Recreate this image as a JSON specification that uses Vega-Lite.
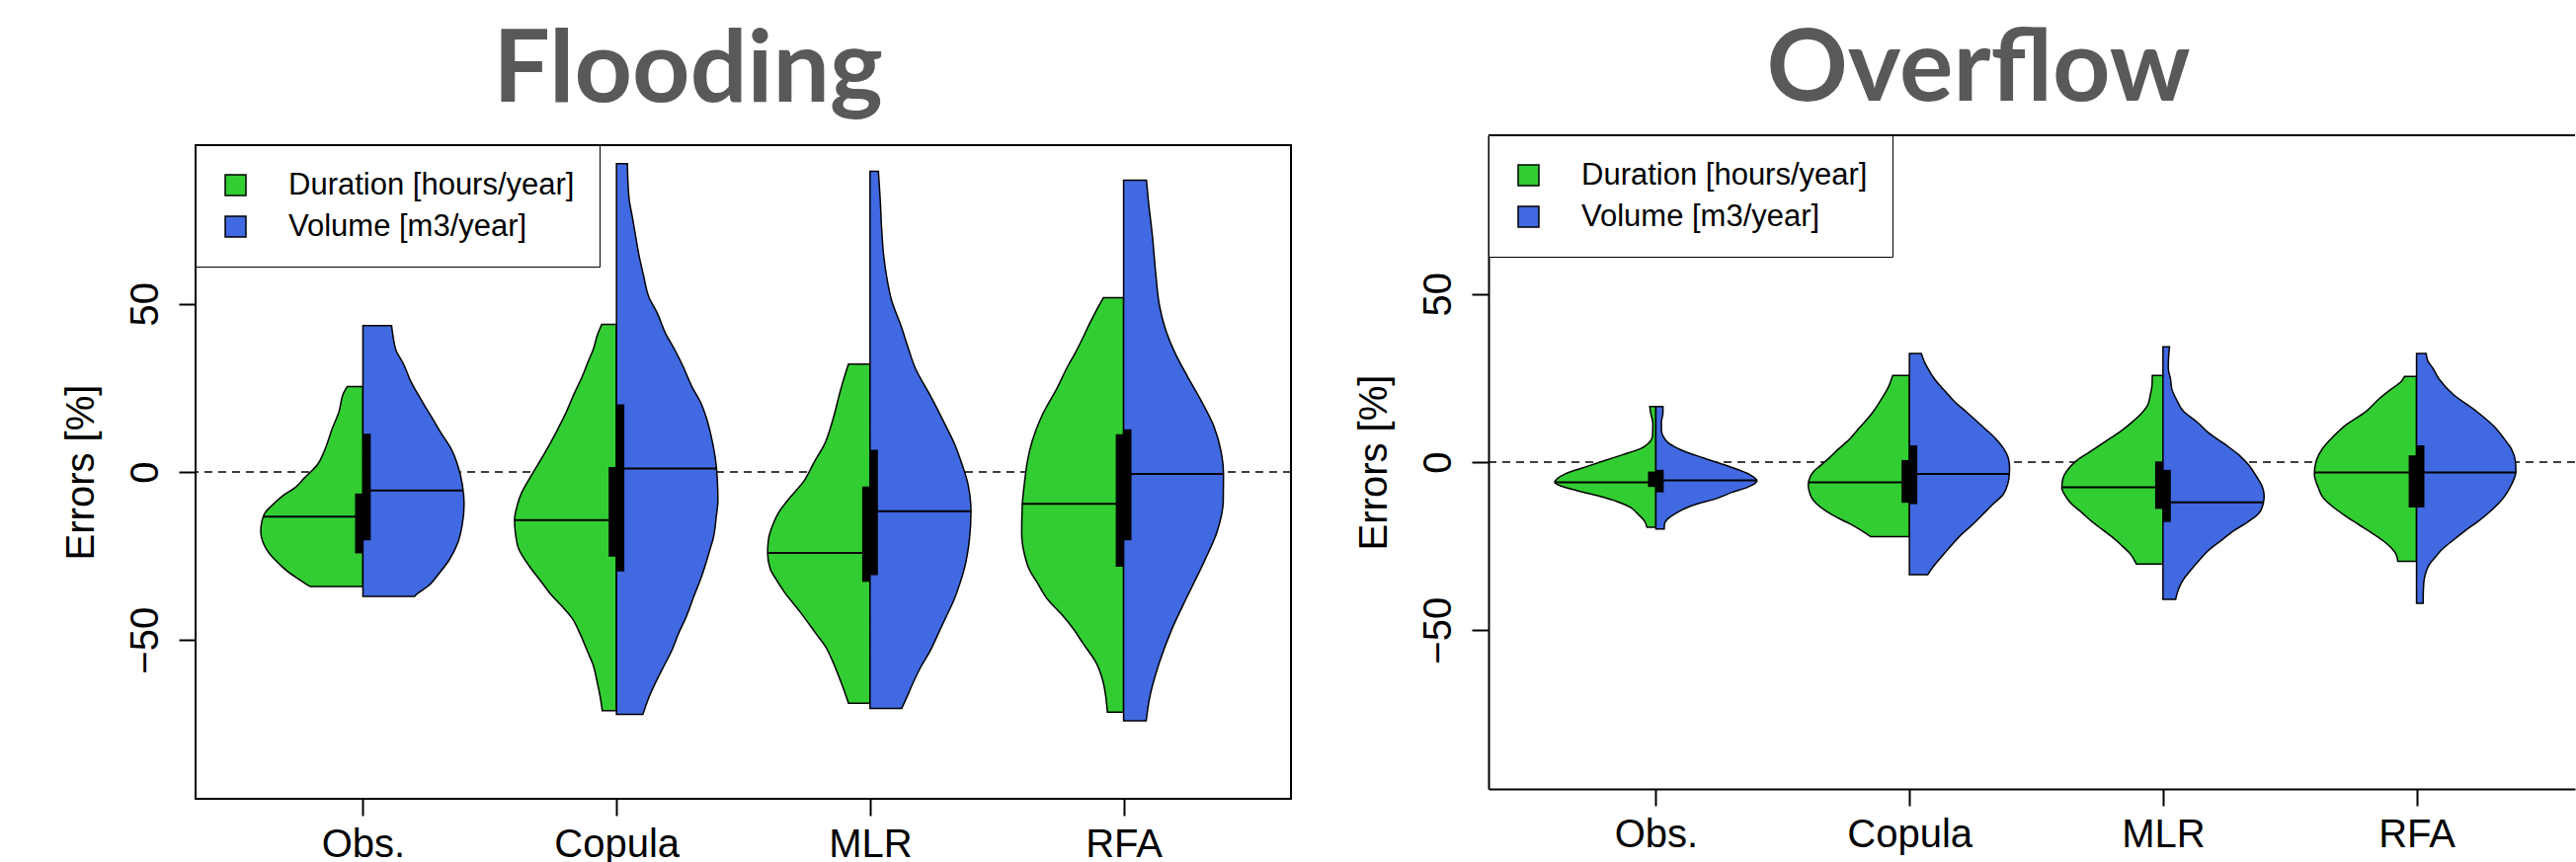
{
  "$schema": "https://vega.github.io/schema/vega-lite/v6.json",
  "background": "white",
  "padding": {"left": 62, "top": 20, "right": 0, "bottom": 0},
  "bounds": "flush",
  "spacing": 200,
  "config": {
    "view": {"stroke": null},
    "axis": {"labelFont": "Liberation Sans", "labelFontSize": 40, "labelColor": "black", "titleFont": "Liberation Sans", "titleFontSize": 40, "titleColor": "black", "titleFontWeight": "normal", "tickColor": "black", "tickSize": 17, "tickWidth": 2, "domainColor": "black", "domainWidth": 2, "grid": false},
    "title": {"font": "Lato", "fontSize": 102, "fontWeight": "bold", "color": "#595959"}
  },
  "resolve": {"scale": {"x": "independent", "y": "independent", "color": "independent"}, "legend": {"color": "independent"}},
  "datasets": {
    "flood_violin": [
      {"cat":"Obs.","series":"Duration [hours/year]","value":25.4,"density":0.062},
      {"cat":"Obs.","series":"Duration [hours/year]","value":23.7,"density":0.075},
      {"cat":"Obs.","series":"Duration [hours/year]","value":17.8,"density":0.095},
      {"cat":"Obs.","series":"Duration [hours/year]","value":12.9,"density":0.121},
      {"cat":"Obs.","series":"Duration [hours/year]","value":6.1,"density":0.153},
      {"cat":"Obs.","series":"Duration [hours/year]","value":2.2,"density":0.179},
      {"cat":"Obs.","series":"Duration [hours/year]","value":-1.8,"density":0.231},
      {"cat":"Obs.","series":"Duration [hours/year]","value":-4.5,"density":0.265},
      {"cat":"Obs.","series":"Duration [hours/year]","value":-7,"density":0.315},
      {"cat":"Obs.","series":"Duration [hours/year]","value":-9.7,"density":0.355},
      {"cat":"Obs.","series":"Duration [hours/year]","value":-12,"density":0.385},
      {"cat":"Obs.","series":"Duration [hours/year]","value":-14.5,"density":0.398},
      {"cat":"Obs.","series":"Duration [hours/year]","value":-17.8,"density":0.403},
      {"cat":"Obs.","series":"Duration [hours/year]","value":-20.5,"density":0.396},
      {"cat":"Obs.","series":"Duration [hours/year]","value":-22.8,"density":0.382},
      {"cat":"Obs.","series":"Duration [hours/year]","value":-25.5,"density":0.355},
      {"cat":"Obs.","series":"Duration [hours/year]","value":-27.7,"density":0.325},
      {"cat":"Obs.","series":"Duration [hours/year]","value":-30,"density":0.29},
      {"cat":"Obs.","series":"Duration [hours/year]","value":-31.8,"density":0.255},
      {"cat":"Obs.","series":"Duration [hours/year]","value":-33.3,"density":0.225},
      {"cat":"Obs.","series":"Duration [hours/year]","value":-34.1,"density":0.207},
      {"cat":"Obs.","series":"Volume [m3/year]","value":43.5,"density":0.113},
      {"cat":"Obs.","series":"Volume [m3/year]","value":40.3,"density":0.119},
      {"cat":"Obs.","series":"Volume [m3/year]","value":35.9,"density":0.132},
      {"cat":"Obs.","series":"Volume [m3/year]","value":32.4,"density":0.158},
      {"cat":"Obs.","series":"Volume [m3/year]","value":26.6,"density":0.191},
      {"cat":"Obs.","series":"Volume [m3/year]","value":20.7,"density":0.236},
      {"cat":"Obs.","series":"Volume [m3/year]","value":15.8,"density":0.275},
      {"cat":"Obs.","series":"Volume [m3/year]","value":10.9,"density":0.314},
      {"cat":"Obs.","series":"Volume [m3/year]","value":7.0,"density":0.347},
      {"cat":"Obs.","series":"Volume [m3/year]","value":2.2,"density":0.373},
      {"cat":"Obs.","series":"Volume [m3/year]","value":-3.7,"density":0.392},
      {"cat":"Obs.","series":"Volume [m3/year]","value":-9.6,"density":0.399},
      {"cat":"Obs.","series":"Volume [m3/year]","value":-15.5,"density":0.392},
      {"cat":"Obs.","series":"Volume [m3/year]","value":-21.3,"density":0.373},
      {"cat":"Obs.","series":"Volume [m3/year]","value":-26.2,"density":0.34},
      {"cat":"Obs.","series":"Volume [m3/year]","value":-30.1,"density":0.301},
      {"cat":"Obs.","series":"Volume [m3/year]","value":-34.0,"density":0.256},
      {"cat":"Obs.","series":"Volume [m3/year]","value":-36.5,"density":0.21},
      {"cat":"Obs.","series":"Volume [m3/year]","value":-37.0,"density":0.204},
      {"cat":"Copula","series":"Duration [hours/year]","value":43.9,"density":0.058},
      {"cat":"Copula","series":"Duration [hours/year]","value":40.6,"density":0.076},
      {"cat":"Copula","series":"Duration [hours/year]","value":36.8,"density":0.09},
      {"cat":"Copula","series":"Duration [hours/year]","value":32.8,"density":0.112},
      {"cat":"Copula","series":"Duration [hours/year]","value":28.4,"density":0.135},
      {"cat":"Copula","series":"Duration [hours/year]","value":23.6,"density":0.165},
      {"cat":"Copula","series":"Duration [hours/year]","value":17.5,"density":0.2},
      {"cat":"Copula","series":"Duration [hours/year]","value":11.8,"density":0.238},
      {"cat":"Copula","series":"Duration [hours/year]","value":4.7,"density":0.29},
      {"cat":"Copula","series":"Duration [hours/year]","value":-1.2,"density":0.337},
      {"cat":"Copula","series":"Duration [hours/year]","value":-6.5,"density":0.376},
      {"cat":"Copula","series":"Duration [hours/year]","value":-10.4,"density":0.393},
      {"cat":"Copula","series":"Duration [hours/year]","value":-14.3,"density":0.402},
      {"cat":"Copula","series":"Duration [hours/year]","value":-18.5,"density":0.398},
      {"cat":"Copula","series":"Duration [hours/year]","value":-23,"density":0.385},
      {"cat":"Copula","series":"Duration [hours/year]","value":-27.9,"density":0.345},
      {"cat":"Copula","series":"Duration [hours/year]","value":-32.5,"density":0.298},
      {"cat":"Copula","series":"Duration [hours/year]","value":-36.5,"density":0.258},
      {"cat":"Copula","series":"Duration [hours/year]","value":-40.1,"density":0.213},
      {"cat":"Copula","series":"Duration [hours/year]","value":-43.5,"density":0.175},
      {"cat":"Copula","series":"Duration [hours/year]","value":-47.9,"density":0.145},
      {"cat":"Copula","series":"Duration [hours/year]","value":-53.6,"density":0.113},
      {"cat":"Copula","series":"Duration [hours/year]","value":-57,"density":0.094},
      {"cat":"Copula","series":"Duration [hours/year]","value":-62.5,"density":0.076},
      {"cat":"Copula","series":"Duration [hours/year]","value":-67,"density":0.064},
      {"cat":"Copula","series":"Duration [hours/year]","value":-71.0,"density":0.056},
      {"cat":"Copula","series":"Volume [m3/year]","value":91.7,"density":0.043},
      {"cat":"Copula","series":"Volume [m3/year]","value":85,"density":0.046},
      {"cat":"Copula","series":"Volume [m3/year]","value":81.1,"density":0.05},
      {"cat":"Copula","series":"Volume [m3/year]","value":76,"density":0.062},
      {"cat":"Copula","series":"Volume [m3/year]","value":70.8,"density":0.074},
      {"cat":"Copula","series":"Volume [m3/year]","value":64,"density":0.09},
      {"cat":"Copula","series":"Volume [m3/year]","value":58.7,"density":0.106},
      {"cat":"Copula","series":"Volume [m3/year]","value":52,"density":0.128},
      {"cat":"Copula","series":"Volume [m3/year]","value":47.4,"density":0.16},
      {"cat":"Copula","series":"Volume [m3/year]","value":41,"density":0.195},
      {"cat":"Copula","series":"Volume [m3/year]","value":36.2,"density":0.231},
      {"cat":"Copula","series":"Volume [m3/year]","value":31.5,"density":0.262},
      {"cat":"Copula","series":"Volume [m3/year]","value":25,"density":0.3},
      {"cat":"Copula","series":"Volume [m3/year]","value":21,"density":0.33},
      {"cat":"Copula","series":"Volume [m3/year]","value":16,"density":0.355},
      {"cat":"Copula","series":"Volume [m3/year]","value":11.8,"density":0.37},
      {"cat":"Copula","series":"Volume [m3/year]","value":4,"density":0.39},
      {"cat":"Copula","series":"Volume [m3/year]","value":-2.6,"density":0.398},
      {"cat":"Copula","series":"Volume [m3/year]","value":-8.7,"density":0.4},
      {"cat":"Copula","series":"Volume [m3/year]","value":-13,"density":0.394},
      {"cat":"Copula","series":"Volume [m3/year]","value":-19.9,"density":0.381},
      {"cat":"Copula","series":"Volume [m3/year]","value":-22.2,"density":0.372},
      {"cat":"Copula","series":"Volume [m3/year]","value":-31.2,"density":0.335},
      {"cat":"Copula","series":"Volume [m3/year]","value":-37,"density":0.305},
      {"cat":"Copula","series":"Volume [m3/year]","value":-43.1,"density":0.275},
      {"cat":"Copula","series":"Volume [m3/year]","value":-48,"density":0.245},
      {"cat":"Copula","series":"Volume [m3/year]","value":-53.6,"density":0.215},
      {"cat":"Copula","series":"Volume [m3/year]","value":-58,"density":0.185},
      {"cat":"Copula","series":"Volume [m3/year]","value":-62.8,"density":0.153},
      {"cat":"Copula","series":"Volume [m3/year]","value":-67,"density":0.128},
      {"cat":"Copula","series":"Volume [m3/year]","value":-72.1,"density":0.104},
      {"cat":"MLR","series":"Duration [hours/year]","value":32.1,"density":0.085},
      {"cat":"MLR","series":"Duration [hours/year]","value":30,"density":0.094},
      {"cat":"MLR","series":"Duration [hours/year]","value":23.9,"density":0.118},
      {"cat":"MLR","series":"Duration [hours/year]","value":16,"density":0.145},
      {"cat":"MLR","series":"Duration [hours/year]","value":8.2,"density":0.18},
      {"cat":"MLR","series":"Duration [hours/year]","value":3,"density":0.22},
      {"cat":"MLR","series":"Duration [hours/year]","value":-2.6,"density":0.26},
      {"cat":"MLR","series":"Duration [hours/year]","value":-7.8,"density":0.318},
      {"cat":"MLR","series":"Duration [hours/year]","value":-12,"density":0.36},
      {"cat":"MLR","series":"Duration [hours/year]","value":-16,"density":0.385},
      {"cat":"MLR","series":"Duration [hours/year]","value":-19.8,"density":0.4},
      {"cat":"MLR","series":"Duration [hours/year]","value":-24.1,"density":0.404},
      {"cat":"MLR","series":"Duration [hours/year]","value":-28.7,"density":0.394},
      {"cat":"MLR","series":"Duration [hours/year]","value":-32,"density":0.37},
      {"cat":"MLR","series":"Duration [hours/year]","value":-35.5,"density":0.34},
      {"cat":"MLR","series":"Duration [hours/year]","value":-41.8,"density":0.274},
      {"cat":"MLR","series":"Duration [hours/year]","value":-48.4,"density":0.21},
      {"cat":"MLR","series":"Duration [hours/year]","value":-52,"density":0.175},
      {"cat":"MLR","series":"Duration [hours/year]","value":-56.2,"density":0.148},
      {"cat":"MLR","series":"Duration [hours/year]","value":-62.8,"density":0.113},
      {"cat":"MLR","series":"Duration [hours/year]","value":-68.8,"density":0.085},
      {"cat":"MLR","series":"Volume [m3/year]","value":89.4,"density":0.033},
      {"cat":"MLR","series":"Volume [m3/year]","value":81.2,"density":0.04},
      {"cat":"MLR","series":"Volume [m3/year]","value":72,"density":0.046},
      {"cat":"MLR","series":"Volume [m3/year]","value":64.2,"density":0.054},
      {"cat":"MLR","series":"Volume [m3/year]","value":57,"density":0.068},
      {"cat":"MLR","series":"Volume [m3/year]","value":51,"density":0.085},
      {"cat":"MLR","series":"Volume [m3/year]","value":43.3,"density":0.123},
      {"cat":"MLR","series":"Volume [m3/year]","value":37,"density":0.15},
      {"cat":"MLR","series":"Volume [m3/year]","value":30.6,"density":0.18},
      {"cat":"MLR","series":"Volume [m3/year]","value":23.5,"density":0.232},
      {"cat":"MLR","series":"Volume [m3/year]","value":15,"density":0.29},
      {"cat":"MLR","series":"Volume [m3/year]","value":8,"density":0.335},
      {"cat":"MLR","series":"Volume [m3/year]","value":4,"density":0.355},
      {"cat":"MLR","series":"Volume [m3/year]","value":-3.5,"density":0.386},
      {"cat":"MLR","series":"Volume [m3/year]","value":-11.7,"density":0.398},
      {"cat":"MLR","series":"Volume [m3/year]","value":-20,"density":0.392},
      {"cat":"MLR","series":"Volume [m3/year]","value":-28.7,"density":0.372},
      {"cat":"MLR","series":"Volume [m3/year]","value":-33,"density":0.355},
      {"cat":"MLR","series":"Volume [m3/year]","value":-37.9,"density":0.332},
      {"cat":"MLR","series":"Volume [m3/year]","value":-42.3,"density":0.305},
      {"cat":"MLR","series":"Volume [m3/year]","value":-47.1,"density":0.275},
      {"cat":"MLR","series":"Volume [m3/year]","value":-53.5,"density":0.235},
      {"cat":"MLR","series":"Volume [m3/year]","value":-58,"density":0.2},
      {"cat":"MLR","series":"Volume [m3/year]","value":-63,"density":0.168},
      {"cat":"MLR","series":"Volume [m3/year]","value":-67,"density":0.145},
      {"cat":"MLR","series":"Volume [m3/year]","value":-70.3,"density":0.125},
      {"cat":"RFA","series":"Duration [hours/year]","value":51.8,"density":0.08},
      {"cat":"RFA","series":"Duration [hours/year]","value":48,"density":0.108},
      {"cat":"RFA","series":"Duration [hours/year]","value":44,"density":0.135},
      {"cat":"RFA","series":"Duration [hours/year]","value":40,"density":0.16},
      {"cat":"RFA","series":"Duration [hours/year]","value":35.5,"density":0.19},
      {"cat":"RFA","series":"Duration [hours/year]","value":31.5,"density":0.22},
      {"cat":"RFA","series":"Duration [hours/year]","value":25,"density":0.262},
      {"cat":"RFA","series":"Duration [hours/year]","value":17.1,"density":0.32},
      {"cat":"RFA","series":"Duration [hours/year]","value":9.3,"density":0.36},
      {"cat":"RFA","series":"Duration [hours/year]","value":3,"density":0.38},
      {"cat":"RFA","series":"Duration [hours/year]","value":-2.6,"density":0.39},
      {"cat":"RFA","series":"Duration [hours/year]","value":-10.4,"density":0.4},
      {"cat":"RFA","series":"Duration [hours/year]","value":-18.3,"density":0.402},
      {"cat":"RFA","series":"Duration [hours/year]","value":-24.8,"density":0.39},
      {"cat":"RFA","series":"Duration [hours/year]","value":-29,"density":0.372},
      {"cat":"RFA","series":"Duration [hours/year]","value":-33,"density":0.34},
      {"cat":"RFA","series":"Duration [hours/year]","value":-37.9,"density":0.3},
      {"cat":"RFA","series":"Duration [hours/year]","value":-42.3,"density":0.245},
      {"cat":"RFA","series":"Duration [hours/year]","value":-47,"density":0.195},
      {"cat":"RFA","series":"Duration [hours/year]","value":-51,"density":0.16},
      {"cat":"RFA","series":"Duration [hours/year]","value":-56.5,"density":0.11},
      {"cat":"RFA","series":"Duration [hours/year]","value":-62.7,"density":0.08},
      {"cat":"RFA","series":"Duration [hours/year]","value":-67,"density":0.07},
      {"cat":"RFA","series":"Duration [hours/year]","value":-71.4,"density":0.064},
      {"cat":"RFA","series":"Volume [m3/year]","value":86.8,"density":0.09},
      {"cat":"RFA","series":"Volume [m3/year]","value":81.1,"density":0.097},
      {"cat":"RFA","series":"Volume [m3/year]","value":69.9,"density":0.114},
      {"cat":"RFA","series":"Volume [m3/year]","value":58.7,"density":0.127},
      {"cat":"RFA","series":"Volume [m3/year]","value":49.7,"density":0.141},
      {"cat":"RFA","series":"Volume [m3/year]","value":41.8,"density":0.168},
      {"cat":"RFA","series":"Volume [m3/year]","value":35.2,"density":0.204},
      {"cat":"RFA","series":"Volume [m3/year]","value":28.4,"density":0.252},
      {"cat":"RFA","series":"Volume [m3/year]","value":21.6,"density":0.303},
      {"cat":"RFA","series":"Volume [m3/year]","value":13.8,"density":0.355},
      {"cat":"RFA","series":"Volume [m3/year]","value":5.9,"density":0.385},
      {"cat":"RFA","series":"Volume [m3/year]","value":-0.7,"density":0.394},
      {"cat":"RFA","series":"Volume [m3/year]","value":-8.7,"density":0.393},
      {"cat":"RFA","series":"Volume [m3/year]","value":-17.7,"density":0.369},
      {"cat":"RFA","series":"Volume [m3/year]","value":-26.6,"density":0.318},
      {"cat":"RFA","series":"Volume [m3/year]","value":-36.7,"density":0.253},
      {"cat":"RFA","series":"Volume [m3/year]","value":-46.8,"density":0.19},
      {"cat":"RFA","series":"Volume [m3/year]","value":-56.9,"density":0.14},
      {"cat":"RFA","series":"Volume [m3/year]","value":-67,"density":0.103},
      {"cat":"RFA","series":"Volume [m3/year]","value":-74,"density":0.089}
    ],
    "flood_stats": [
      {"cat":"Obs.","series":"Duration [hours/year]","q1":-24.2,"q3":-6.4,"median":-13.3,"medw":0.392},
      {"cat":"Obs.","series":"Volume [m3/year]","q1":-20.3,"q3":11.4,"median":-5.5,"medw":0.394},
      {"cat":"Copula","series":"Duration [hours/year]","q1":-25.2,"q3":1.5,"median":-14.3,"medw":0.402},
      {"cat":"Copula","series":"Volume [m3/year]","q1":-29.6,"q3":20.1,"median":1.0,"medw":0.395},
      {"cat":"MLR","series":"Duration [hours/year]","q1":-32.7,"q3":-4.3,"median":-24.1,"medw":0.404},
      {"cat":"MLR","series":"Volume [m3/year]","q1":-30.7,"q3":6.6,"median":-11.7,"medw":0.398},
      {"cat":"RFA","series":"Duration [hours/year]","q1":-28.2,"q3":11.2,"median":-9.5,"medw":0.401},
      {"cat":"RFA","series":"Volume [m3/year]","q1":-20.3,"q3":12.7,"median":-0.6,"medw":0.394}
    ],
    "over_violin": [
      {"cat":"Obs.","series":"Duration [hours/year]","value":16.5,"density":0.024},
      {"cat":"Obs.","series":"Duration [hours/year]","value":14.5,"density":0.02},
      {"cat":"Obs.","series":"Duration [hours/year]","value":11.5,"density":0.012},
      {"cat":"Obs.","series":"Duration [hours/year]","value":8,"density":0.013},
      {"cat":"Obs.","series":"Duration [hours/year]","value":5.5,"density":0.03},
      {"cat":"Obs.","series":"Duration [hours/year]","value":4,"density":0.06},
      {"cat":"Obs.","series":"Duration [hours/year]","value":2.1,"density":0.135},
      {"cat":"Obs.","series":"Duration [hours/year]","value":0.5,"density":0.2},
      {"cat":"Obs.","series":"Duration [hours/year]","value":-1.5,"density":0.28},
      {"cat":"Obs.","series":"Duration [hours/year]","value":-3.4,"density":0.355},
      {"cat":"Obs.","series":"Duration [hours/year]","value":-5,"density":0.39},
      {"cat":"Obs.","series":"Duration [hours/year]","value":-6,"density":0.399},
      {"cat":"Obs.","series":"Duration [hours/year]","value":-7.2,"density":0.37},
      {"cat":"Obs.","series":"Duration [hours/year]","value":-8.5,"density":0.31},
      {"cat":"Obs.","series":"Duration [hours/year]","value":-10,"density":0.23},
      {"cat":"Obs.","series":"Duration [hours/year]","value":-11.8,"density":0.15},
      {"cat":"Obs.","series":"Duration [hours/year]","value":-13.5,"density":0.1},
      {"cat":"Obs.","series":"Duration [hours/year]","value":-15.5,"density":0.07},
      {"cat":"Obs.","series":"Duration [hours/year]","value":-17.5,"density":0.045},
      {"cat":"Obs.","series":"Duration [hours/year]","value":-19.4,"density":0.035},
      {"cat":"Obs.","series":"Volume [m3/year]","value":16.5,"density":0.028},
      {"cat":"Obs.","series":"Volume [m3/year]","value":14.5,"density":0.028},
      {"cat":"Obs.","series":"Volume [m3/year]","value":12,"density":0.022},
      {"cat":"Obs.","series":"Volume [m3/year]","value":9.5,"density":0.022},
      {"cat":"Obs.","series":"Volume [m3/year]","value":7.5,"density":0.03},
      {"cat":"Obs.","series":"Volume [m3/year]","value":6,"density":0.045},
      {"cat":"Obs.","series":"Volume [m3/year]","value":4.5,"density":0.075},
      {"cat":"Obs.","series":"Volume [m3/year]","value":3.6,"density":0.1},
      {"cat":"Obs.","series":"Volume [m3/year]","value":1.1,"density":0.193},
      {"cat":"Obs.","series":"Volume [m3/year]","value":-1.3,"density":0.289},
      {"cat":"Obs.","series":"Volume [m3/year]","value":-3.8,"density":0.372},
      {"cat":"Obs.","series":"Volume [m3/year]","value":-5.5,"density":0.399},
      {"cat":"Obs.","series":"Volume [m3/year]","value":-7.6,"density":0.358},
      {"cat":"Obs.","series":"Volume [m3/year]","value":-9,"density":0.3},
      {"cat":"Obs.","series":"Volume [m3/year]","value":-10.6,"density":0.248},
      {"cat":"Obs.","series":"Volume [m3/year]","value":-13,"density":0.14},
      {"cat":"Obs.","series":"Volume [m3/year]","value":-15.5,"density":0.072},
      {"cat":"Obs.","series":"Volume [m3/year]","value":-17,"density":0.045},
      {"cat":"Obs.","series":"Volume [m3/year]","value":-18.5,"density":0.034},
      {"cat":"Obs.","series":"Volume [m3/year]","value":-19.9,"density":0.033},
      {"cat":"Copula","series":"Duration [hours/year]","value":25.8,"density":0.066},
      {"cat":"Copula","series":"Duration [hours/year]","value":22,"density":0.085},
      {"cat":"Copula","series":"Duration [hours/year]","value":18.8,"density":0.11},
      {"cat":"Copula","series":"Duration [hours/year]","value":15.5,"density":0.138},
      {"cat":"Copula","series":"Duration [hours/year]","value":12.9,"density":0.165},
      {"cat":"Copula","series":"Duration [hours/year]","value":10,"density":0.2},
      {"cat":"Copula","series":"Duration [hours/year]","value":7,"density":0.234},
      {"cat":"Copula","series":"Duration [hours/year]","value":4,"density":0.278},
      {"cat":"Copula","series":"Duration [hours/year]","value":1.2,"density":0.317},
      {"cat":"Copula","series":"Duration [hours/year]","value":-1,"density":0.35},
      {"cat":"Copula","series":"Duration [hours/year]","value":-2.7,"density":0.377},
      {"cat":"Copula","series":"Duration [hours/year]","value":-4.7,"density":0.393},
      {"cat":"Copula","series":"Duration [hours/year]","value":-6.6,"density":0.399},
      {"cat":"Copula","series":"Duration [hours/year]","value":-8.5,"density":0.396},
      {"cat":"Copula","series":"Duration [hours/year]","value":-10.5,"density":0.386},
      {"cat":"Copula","series":"Duration [hours/year]","value":-12.5,"density":0.365},
      {"cat":"Copula","series":"Duration [hours/year]","value":-14.5,"density":0.33},
      {"cat":"Copula","series":"Duration [hours/year]","value":-16.5,"density":0.285},
      {"cat":"Copula","series":"Duration [hours/year]","value":-18.4,"density":0.234},
      {"cat":"Copula","series":"Duration [hours/year]","value":-20.3,"density":0.19},
      {"cat":"Copula","series":"Duration [hours/year]","value":-22.2,"density":0.152},
      {"cat":"Copula","series":"Volume [m3/year]","value":32.3,"density":0.047},
      {"cat":"Copula","series":"Volume [m3/year]","value":30,"density":0.058},
      {"cat":"Copula","series":"Volume [m3/year]","value":28.2,"density":0.07},
      {"cat":"Copula","series":"Volume [m3/year]","value":24.6,"density":0.1},
      {"cat":"Copula","series":"Volume [m3/year]","value":21,"density":0.142},
      {"cat":"Copula","series":"Volume [m3/year]","value":18,"density":0.178},
      {"cat":"Copula","series":"Volume [m3/year]","value":14.9,"density":0.225},
      {"cat":"Copula","series":"Volume [m3/year]","value":10.5,"density":0.29},
      {"cat":"Copula","series":"Volume [m3/year]","value":7,"density":0.34},
      {"cat":"Copula","series":"Volume [m3/year]","value":4,"density":0.372},
      {"cat":"Copula","series":"Volume [m3/year]","value":1.2,"density":0.39},
      {"cat":"Copula","series":"Volume [m3/year]","value":-1.5,"density":0.395},
      {"cat":"Copula","series":"Volume [m3/year]","value":-3.7,"density":0.394},
      {"cat":"Copula","series":"Volume [m3/year]","value":-6.5,"density":0.388},
      {"cat":"Copula","series":"Volume [m3/year]","value":-9.6,"density":0.37},
      {"cat":"Copula","series":"Volume [m3/year]","value":-12.5,"density":0.33},
      {"cat":"Copula","series":"Volume [m3/year]","value":-15.5,"density":0.29},
      {"cat":"Copula","series":"Volume [m3/year]","value":-18.5,"density":0.25},
      {"cat":"Copula","series":"Volume [m3/year]","value":-21.4,"density":0.207},
      {"cat":"Copula","series":"Volume [m3/year]","value":-24.8,"density":0.165},
      {"cat":"Copula","series":"Volume [m3/year]","value":-28.2,"density":0.126},
      {"cat":"Copula","series":"Volume [m3/year]","value":-31,"density":0.095},
      {"cat":"Copula","series":"Volume [m3/year]","value":-33.5,"density":0.072},
      {"cat":"MLR","series":"Duration [hours/year]","value":25.8,"density":0.042},
      {"cat":"MLR","series":"Duration [hours/year]","value":23,"density":0.043},
      {"cat":"MLR","series":"Duration [hours/year]","value":20,"density":0.05},
      {"cat":"MLR","series":"Duration [hours/year]","value":17,"density":0.06},
      {"cat":"MLR","series":"Duration [hours/year]","value":14.9,"density":0.08},
      {"cat":"MLR","series":"Duration [hours/year]","value":12,"density":0.12},
      {"cat":"MLR","series":"Duration [hours/year]","value":9,"density":0.17},
      {"cat":"MLR","series":"Duration [hours/year]","value":6,"density":0.23},
      {"cat":"MLR","series":"Duration [hours/year]","value":3,"density":0.29},
      {"cat":"MLR","series":"Duration [hours/year]","value":0.5,"density":0.34},
      {"cat":"MLR","series":"Duration [hours/year]","value":-2.7,"density":0.38},
      {"cat":"MLR","series":"Duration [hours/year]","value":-5,"density":0.395},
      {"cat":"MLR","series":"Duration [hours/year]","value":-7.6,"density":0.399},
      {"cat":"MLR","series":"Duration [hours/year]","value":-10,"density":0.385},
      {"cat":"MLR","series":"Duration [hours/year]","value":-12.5,"density":0.36},
      {"cat":"MLR","series":"Duration [hours/year]","value":-15,"density":0.32},
      {"cat":"MLR","series":"Duration [hours/year]","value":-17.4,"density":0.285},
      {"cat":"MLR","series":"Duration [hours/year]","value":-20,"density":0.24},
      {"cat":"MLR","series":"Duration [hours/year]","value":-22.3,"density":0.2},
      {"cat":"MLR","series":"Duration [hours/year]","value":-25,"density":0.16},
      {"cat":"MLR","series":"Duration [hours/year]","value":-27.2,"density":0.13},
      {"cat":"MLR","series":"Duration [hours/year]","value":-30.3,"density":0.105},
      {"cat":"MLR","series":"Volume [m3/year]","value":34.3,"density":0.026},
      {"cat":"MLR","series":"Volume [m3/year]","value":31,"density":0.022},
      {"cat":"MLR","series":"Volume [m3/year]","value":28,"density":0.021},
      {"cat":"MLR","series":"Volume [m3/year]","value":24.6,"density":0.03},
      {"cat":"MLR","series":"Volume [m3/year]","value":21.7,"density":0.035},
      {"cat":"MLR","series":"Volume [m3/year]","value":18.8,"density":0.052},
      {"cat":"MLR","series":"Volume [m3/year]","value":15.2,"density":0.08},
      {"cat":"MLR","series":"Volume [m3/year]","value":11.9,"density":0.135},
      {"cat":"MLR","series":"Volume [m3/year]","value":8.7,"density":0.18},
      {"cat":"MLR","series":"Volume [m3/year]","value":5,"density":0.25},
      {"cat":"MLR","series":"Volume [m3/year]","value":2.1,"density":0.3},
      {"cat":"MLR","series":"Volume [m3/year]","value":-1,"density":0.34},
      {"cat":"MLR","series":"Volume [m3/year]","value":-4.4,"density":0.37},
      {"cat":"MLR","series":"Volume [m3/year]","value":-7,"density":0.39},
      {"cat":"MLR","series":"Volume [m3/year]","value":-10,"density":0.399},
      {"cat":"MLR","series":"Volume [m3/year]","value":-12.5,"density":0.395},
      {"cat":"MLR","series":"Volume [m3/year]","value":-15.5,"density":0.375},
      {"cat":"MLR","series":"Volume [m3/year]","value":-18,"density":0.33},
      {"cat":"MLR","series":"Volume [m3/year]","value":-20.4,"density":0.28},
      {"cat":"MLR","series":"Volume [m3/year]","value":-23,"density":0.235},
      {"cat":"MLR","series":"Volume [m3/year]","value":-26.2,"density":0.18},
      {"cat":"MLR","series":"Volume [m3/year]","value":-29,"density":0.145},
      {"cat":"MLR","series":"Volume [m3/year]","value":-32.1,"density":0.11},
      {"cat":"MLR","series":"Volume [m3/year]","value":-35,"density":0.08},
      {"cat":"MLR","series":"Volume [m3/year]","value":-37.1,"density":0.065},
      {"cat":"MLR","series":"Volume [m3/year]","value":-40.8,"density":0.05},
      {"cat":"RFA","series":"Duration [hours/year]","value":25.5,"density":0.047},
      {"cat":"RFA","series":"Duration [hours/year]","value":24,"density":0.06},
      {"cat":"RFA","series":"Duration [hours/year]","value":21.7,"density":0.1},
      {"cat":"RFA","series":"Duration [hours/year]","value":18.8,"density":0.148},
      {"cat":"RFA","series":"Duration [hours/year]","value":15,"density":0.2},
      {"cat":"RFA","series":"Duration [hours/year]","value":11,"density":0.28},
      {"cat":"RFA","series":"Duration [hours/year]","value":7.5,"density":0.33},
      {"cat":"RFA","series":"Duration [hours/year]","value":4.1,"density":0.37},
      {"cat":"RFA","series":"Duration [hours/year]","value":0.5,"density":0.395},
      {"cat":"RFA","series":"Duration [hours/year]","value":-3.5,"density":0.403},
      {"cat":"RFA","series":"Duration [hours/year]","value":-7.5,"density":0.388},
      {"cat":"RFA","series":"Duration [hours/year]","value":-10.6,"density":0.368},
      {"cat":"RFA","series":"Duration [hours/year]","value":-13,"density":0.335},
      {"cat":"RFA","series":"Duration [hours/year]","value":-15.5,"density":0.29},
      {"cat":"RFA","series":"Duration [hours/year]","value":-18.5,"density":0.23},
      {"cat":"RFA","series":"Duration [hours/year]","value":-21.4,"density":0.17},
      {"cat":"RFA","series":"Duration [hours/year]","value":-23.5,"density":0.13},
      {"cat":"RFA","series":"Duration [hours/year]","value":-25.5,"density":0.1},
      {"cat":"RFA","series":"Duration [hours/year]","value":-27.5,"density":0.08},
      {"cat":"RFA","series":"Duration [hours/year]","value":-29.5,"density":0.074},
      {"cat":"RFA","series":"Volume [m3/year]","value":32.3,"density":0.038},
      {"cat":"RFA","series":"Volume [m3/year]","value":30,"density":0.045},
      {"cat":"RFA","series":"Volume [m3/year]","value":28.2,"density":0.062},
      {"cat":"RFA","series":"Volume [m3/year]","value":24.6,"density":0.09},
      {"cat":"RFA","series":"Volume [m3/year]","value":20.1,"density":0.145},
      {"cat":"RFA","series":"Volume [m3/year]","value":15.2,"density":0.235},
      {"cat":"RFA","series":"Volume [m3/year]","value":10.3,"density":0.31},
      {"cat":"RFA","series":"Volume [m3/year]","value":7,"density":0.345},
      {"cat":"RFA","series":"Volume [m3/year]","value":3.8,"density":0.375},
      {"cat":"RFA","series":"Volume [m3/year]","value":0.2,"density":0.39},
      {"cat":"RFA","series":"Volume [m3/year]","value":-2.8,"density":0.392},
      {"cat":"RFA","series":"Volume [m3/year]","value":-6.6,"density":0.375},
      {"cat":"RFA","series":"Volume [m3/year]","value":-10.9,"density":0.34},
      {"cat":"RFA","series":"Volume [m3/year]","value":-14,"density":0.3},
      {"cat":"RFA","series":"Volume [m3/year]","value":-17.5,"density":0.245},
      {"cat":"RFA","series":"Volume [m3/year]","value":-20.5,"density":0.19},
      {"cat":"RFA","series":"Volume [m3/year]","value":-23.2,"density":0.145},
      {"cat":"RFA","series":"Volume [m3/year]","value":-26,"density":0.1},
      {"cat":"RFA","series":"Volume [m3/year]","value":-28.2,"density":0.075},
      {"cat":"RFA","series":"Volume [m3/year]","value":-30.5,"density":0.05},
      {"cat":"RFA","series":"Volume [m3/year]","value":-32.5,"density":0.038},
      {"cat":"RFA","series":"Volume [m3/year]","value":-35,"density":0.03},
      {"cat":"RFA","series":"Volume [m3/year]","value":-38,"density":0.027},
      {"cat":"RFA","series":"Volume [m3/year]","value":-42,"density":0.026}
    ],
    "over_stats": [
      {"cat":"Obs.","series":"Duration [hours/year]","q1":-7.4,"q3":-2.8,"median":-6.0,"medw":0.399},
      {"cat":"Obs.","series":"Volume [m3/year]","q1":-9.0,"q3":-2.3,"median":-5.4,"medw":0.399},
      {"cat":"Copula","series":"Duration [hours/year]","q1":-12.1,"q3":0.6,"median":-6.0,"medw":0.399},
      {"cat":"Copula","series":"Volume [m3/year]","q1":-12.5,"q3":5.0,"median":-3.5,"medw":0.394},
      {"cat":"MLR","series":"Duration [hours/year]","q1":-13.9,"q3":0.2,"median":-7.5,"medw":0.399},
      {"cat":"MLR","series":"Volume [m3/year]","q1":-17.8,"q3":-2.3,"median":-12.0,"medw":0.396},
      {"cat":"RFA","series":"Duration [hours/year]","q1":-13.5,"q3":2.0,"median":-3.1,"medw":0.401},
      {"cat":"RFA","series":"Volume [m3/year]","q1":-13.5,"q3":5.0,"median":-3.1,"medw":0.391}
    ]
  },
  "hconcat": [
    {
      "width": 1109,
      "height": 672,
      "title": {"text": "Flooding", "anchor": "middle", "frame": "group", "dx": -56, "offset": -68, "baseline": "alphabetic"},
      "layer": [
        {
          "data": {"values": [{}]},
          "mark": {"type": "rule", "color": "black", "strokeWidth": 1.5, "strokeDash": [8, 6]},
          "encoding": {"y": {"datum": 0, "type": "quantitative", "title": "Errors [%]"}}
        },
        {
          "data": {"name": "flood_violin"},
          "transform": [
            {"calculate": "indexof(['Obs.','Copula','MLR','RFA'], datum.cat) + 1", "as": "xc"},
            {"calculate": "datum.xc + (datum.series === 'Duration [hours/year]' ? -1 : 1) * datum.density", "as": "xv"}
          ],
          "mark": {"type": "area", "orient": "horizontal", "interpolate": "monotone", "stroke": "black", "strokeWidth": 1.5, "fillOpacity": 1},
          "encoding": {
            "y": {"field": "value", "type": "quantitative", "title": "Errors [%]", "scale": {"domain": [-97.2, 100.137], "nice": false, "zero": false},
                  "axis": {"values": [-50, 0, 50], "domain": false, "labelAngle": 270, "labelAlign": "center", "labelBaseline": "alphabetic", "labelPadding": 22, "labelFlush": false, "labelOverlap": false, "title": "Errors [%]", "titleAngle": 270, "titleAlign": "center", "titleBaseline": "alphabetic", "titleX": -104, "titleY": 341}},
            "x": {"field": "xv", "type": "quantitative", "stack": null, "title": null, "scale": {"domain": [0.34, 4.66], "nice": false, "zero": false},
                  "axis": {"values": [1, 2, 3, 4], "labelExpr": "['Obs.','Copula','MLR','RFA'][datum.value - 1]", "domain": false, "title": null, "labelAngle": 0, "labelAlign": "center", "labelBaseline": "alphabetic", "labelPadding": 41, "labelFlush": false, "labelOverlap": false}},
            "x2": {"field": "xc"},
            "color": {"field": "series", "type": "nominal",
                      "scale": {"domain": ["Duration [hours/year]", "Volume [m3/year]"], "range": ["#32CD32", "#4169E1"]},
                      "legend": {"orient": "none", "legendX": 0, "legendY": 10, "title": null, "direction": "vertical", "symbolType": "square", "symbolSize": 441, "labelFont": "Liberation Sans", "labelFontSize": 31, "labelColor": "black", "labelOffset": 38, "labelLimit": 800, "padding": 25, "rowPadding": 10, "strokeColor": "black", "fillColor": "white", "symbolOffset": 0,
                                 "encode": {"symbols": {"update": {"stroke": {"value": "transparent"}, "strokeWidth": {"value": 0}}}, "legend": {"update": {"strokeWidth": {"value": 2}}}}}},
            "detail": {"field": "cat"}
          }
        },
        {
          "data": {"name": "flood_stats"},
          "transform": [
            {"calculate": "indexof(['Obs.','Copula','MLR','RFA'], datum.cat) + 1", "as": "xc"},
            {"calculate": "datum.series === 'Duration [hours/year]' ? -1 : 1", "as": "side"},
            {"calculate": "datum.xc + datum.side * datum.medw", "as": "xm"}
          ],
          "mark": {"type": "rule", "color": "black", "strokeWidth": 2},
          "encoding": {"x": {"field": "xc", "type": "quantitative", "title": null}, "x2": {"field": "xm"}, "y": {"field": "median", "type": "quantitative", "title": "Errors [%]"}}
        },
        {
          "data": {"name": "flood_stats"},
          "transform": [
            {"calculate": "indexof(['Obs.','Copula','MLR','RFA'], datum.cat) + 1", "as": "xc"},
            {"calculate": "datum.xc + (datum.series === 'Duration [hours/year]' ? -1 : 1) * 0.031", "as": "xb"}
          ],
          "mark": {"type": "rect", "color": "black"},
          "encoding": {"x": {"field": "xc", "type": "quantitative", "title": null}, "x2": {"field": "xb"}, "y": {"field": "q1", "type": "quantitative", "title": "Errors [%]"}, "y2": {"field": "q3"}}
        },
        {
          "data": {"values": [{}]},
          "mark": {"type": "rect", "filled": false, "stroke": "black", "strokeWidth": 2},
          "encoding": {"x": {"datum": 0.34, "type": "quantitative", "title": null}, "x2": {"datum": 4.66}, "y": {"datum": -97.2, "type": "quantitative", "title": "Errors [%]"}, "y2": {"datum": 97.2}}
        }
      ]
    },
    {
      "width": 1100,
      "height": 662,
      "title": {"text": "Overflow", "anchor": "middle", "frame": "group", "dx": -54, "offset": -68, "baseline": "alphabetic"},
      "layer": [
        {
          "data": {"values": [{}]},
          "mark": {"type": "rule", "color": "black", "strokeWidth": 1.5, "strokeDash": [8, 6]},
          "encoding": {"y": {"datum": 0, "type": "quantitative", "title": "Errors [%]"}}
        },
        {
          "data": {"name": "over_violin"},
          "transform": [
            {"calculate": "indexof(['Obs.','Copula','MLR','RFA'], datum.cat) + 1", "as": "xc"},
            {"calculate": "datum.xc + (datum.series === 'Duration [hours/year]' ? -1 : 1) * datum.density", "as": "xv"}
          ],
          "mark": {"type": "area", "orient": "horizontal", "interpolate": "monotone", "stroke": "black", "strokeWidth": 1.5, "fillOpacity": 1},
          "encoding": {
            "y": {"field": "value", "type": "quantitative", "title": "Errors [%]", "scale": {"domain": [-97.2, 97.2], "nice": false, "zero": false},
                  "axis": {"values": [-50, 0, 50], "domain": true, "labelAngle": 270, "labelAlign": "center", "labelBaseline": "alphabetic", "labelPadding": 22, "labelFlush": false, "labelOverlap": false, "title": "Errors [%]", "titleAngle": 270, "titleAlign": "center", "titleBaseline": "alphabetic", "titleX": -104, "titleY": 331}},
            "x": {"field": "xv", "type": "quantitative", "stack": null, "title": null, "scale": {"domain": [0.34, 4.625], "nice": false, "zero": false},
                  "axis": {"values": [1, 2, 3, 4], "labelExpr": "['Obs.','Copula','MLR','RFA'][datum.value - 1]", "domain": true, "title": null, "labelAngle": 0, "labelAlign": "center", "labelBaseline": "alphabetic", "labelPadding": 41, "labelFlush": false, "labelOverlap": false}},
            "x2": {"field": "xc"},
            "color": {"field": "series", "type": "nominal",
                      "scale": {"domain": ["Duration [hours/year]", "Volume [m3/year]"], "range": ["#32CD32", "#4169E1"]},
                      "legend": {"orient": "none", "legendX": 0, "legendY": 0, "title": null, "direction": "vertical", "symbolType": "square", "symbolSize": 441, "labelFont": "Liberation Sans", "labelFontSize": 31, "labelColor": "black", "labelOffset": 38, "labelLimit": 800, "padding": 25, "rowPadding": 10, "strokeColor": "black", "fillColor": "white", "symbolOffset": 0,
                                 "encode": {"symbols": {"update": {"stroke": {"value": "transparent"}, "strokeWidth": {"value": 0}}}, "legend": {"update": {"strokeWidth": {"value": 2}}}}}},
            "detail": {"field": "cat"}
          }
        },
        {
          "data": {"name": "over_stats"},
          "transform": [
            {"calculate": "indexof(['Obs.','Copula','MLR','RFA'], datum.cat) + 1", "as": "xc"},
            {"calculate": "datum.series === 'Duration [hours/year]' ? -1 : 1", "as": "side"},
            {"calculate": "datum.xc + datum.side * datum.medw", "as": "xm"}
          ],
          "mark": {"type": "rule", "color": "black", "strokeWidth": 2},
          "encoding": {"x": {"field": "xc", "type": "quantitative", "title": null}, "x2": {"field": "xm"}, "y": {"field": "median", "type": "quantitative", "title": "Errors [%]"}}
        },
        {
          "data": {"name": "over_stats"},
          "transform": [
            {"calculate": "indexof(['Obs.','Copula','MLR','RFA'], datum.cat) + 1", "as": "xc"},
            {"calculate": "datum.xc + (datum.series === 'Duration [hours/year]' ? -1 : 1) * 0.031", "as": "xb"}
          ],
          "mark": {"type": "rect", "color": "black"},
          "encoding": {"x": {"field": "xc", "type": "quantitative", "title": null}, "x2": {"field": "xb"}, "y": {"field": "q1", "type": "quantitative", "title": "Errors [%]"}, "y2": {"field": "q3"}}
        },
        {
          "data": {"values": [{}]},
          "mark": {"type": "rule", "color": "black", "strokeWidth": 2},
          "encoding": {"y": {"datum": 97.2, "type": "quantitative", "title": "Errors [%]"}}
        }
      ]
    }
  ]
}
